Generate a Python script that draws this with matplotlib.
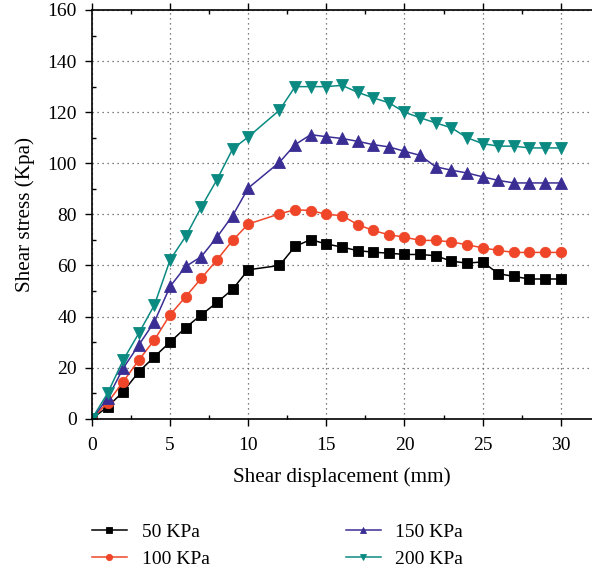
import matplotlib.pyplot as plt
from matplotlib.ticker import MultipleLocator

plt.rcParams['font.family'] = ['Liberation Serif', 'DejaVu Serif']

disp = [0, 1, 2, 3, 4, 5, 6, 7, 8, 9, 10, 12, 13, 14, 15, 16, 17, 18, 19, 20,
        21, 22, 23, 24, 25, 26, 27, 28, 29, 30]
kpa50 = [0, 4.7, 10.6, 18.4, 24.3, 30, 35.7, 40.7, 45.5, 50.7, 58.3, 60, 67.5, 70.1, 68.4,
         67.2, 65.8, 65.2, 64.8, 64.3, 64.3, 63.8, 61.7, 60.9, 61.4, 56.8, 55.7, 54.7, 54.7, 54.7]
kpa100 = [0, 6.3, 14.5, 23, 30.9, 40.7, 47.8, 55, 62.2, 69.8, 76.2, 80.2, 81.8, 81.5, 80,
          79.5, 76, 73.7, 72, 71.1, 69.8, 69.8, 69.2, 68.1, 66.9, 65.9, 65.1, 65.1, 65.1, 65.1]
kpa150 = [0, 8, 19.8, 28.9, 38, 51.8, 59.6, 63.5, 71.1, 79.5, 90.3, 100.4, 107.3, 111.2, 110.4,
          109.7, 108.6, 107.3, 106.4, 104.7, 103.1, 98.6, 97.3, 96.2, 94.7, 93.3, 92.3, 92.3, 92.3, 92.3]
kpa200 = [0, 10, 23, 33.5, 44.6, 62.2, 71.4, 82.9, 93.6, 105.6, 110.3, 120.8, 130, 130, 130,
          130.5, 127.8, 125.6, 123.7, 120, 117.8, 115.8, 113.9, 110, 107.7, 106.7, 106.7, 106, 106, 106]

series = [('50 KPa', kpa50, 'black', 's', 6.5),
          ('100 KPa', kpa100, '#EF4629', 'o', 7.5),
          ('150 KPa', kpa150, '#3A2E94', '^', 8),
          ('200 KPa', kpa200, '#0B8A82', 'v', 8)]

fig = plt.figure(figsize=(5.92, 5.74), dpi=100)
ax = fig.add_axes([0.1554, 0.2705, 0.8446, 0.7121])

for label, vals, col, mk, ms in series:
    ax.plot(disp, vals, color=col, marker=mk, markersize=ms, linewidth=1.1,
            markeredgecolor=col, markeredgewidth=0.6, label=label)

ax.set_xlim(0, 32)
ax.set_ylim(0, 160)
ax.xaxis.set_major_locator(MultipleLocator(5))
ax.xaxis.set_minor_locator(MultipleLocator(2.5))
ax.yaxis.set_major_locator(MultipleLocator(20))
ax.yaxis.set_minor_locator(MultipleLocator(10))
ax.tick_params(which='major', direction='out', length=5, width=1, labelsize=14, top=True)
ax.tick_params(axis='x', which='major', pad=8)
ax.tick_params(axis='y', which='major', pad=6)
ax.tick_params(which='minor', direction='in', length=3, width=1, top=True)
ax.grid(True, which='major', linestyle=(0, (1, 3)), color='#555555', linewidth=0.9)
ax.spines['right'].set_visible(False)
for s in ['left', 'bottom', 'top']:
    ax.spines[s].set_linewidth(1.2)

ax.set_xlabel('Shear displacement (mm)', fontsize=15.2, labelpad=10)
ax.set_ylabel('Shear stress (Kpa)', fontsize=15.2, labelpad=9)

fig.legend(loc='upper left', bbox_to_anchor=(0.1554, 0.089), ncol=2, frameon=False,
           fontsize=14, markerscale=0.6, handlelength=1.8, columnspacing=7.0,
           labelspacing=0.5, handletextpad=0.75, borderpad=0, borderaxespad=0)

fig.savefig('out.png', dpi=100)
